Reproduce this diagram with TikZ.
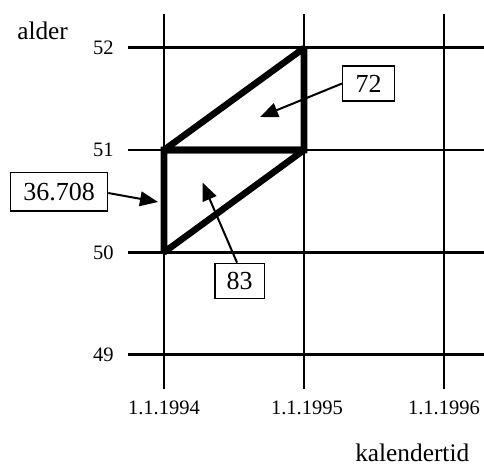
\documentclass[tikz,border=0pt]{standalone}
\usepackage{fontspec}
\setmainfont{Liberation Serif}
\usetikzlibrary{arrows.meta}
\begin{document}
\begin{tikzpicture}[x=0.75pt,y=-0.75pt,
  gridline/.style={line width=2.2pt,black},
  thickline/.style={line width=4.9pt,black,line join=miter,miter limit=2},
  axlabel/.style={font=\fontsize{15.4}{18}\selectfont,inner sep=0pt},
  biglabel/.style={font=\fontsize{19}{22}\selectfont,inner sep=0pt},
  numbox/.style={draw,line width=0.9pt,font=\fontsize{19.5}{22}\selectfont,inner sep=0pt,minimum height=26.3pt},
  pointer/.style={line width=1.5pt,-{Triangle[length=13.5pt,width=11pt]}}]
\useasboundingbox (0,0) rectangle (484,466);
% grid
\foreach \yy in {47.7,150,252.3,354.6} \draw[gridline] (128,\yy) -- (484,\yy);
\foreach \xx in {164,304,444} \draw[gridline] (\xx,14) -- (\xx,389);
% thick triangles
\draw[thickline] (164,150) -- (304,48) -- (304,150) -- cycle;
\draw[thickline] (164,252.3) -- (164,150) -- (304,150) -- cycle;
% axis labels
\node[axlabel,anchor=east] (y52) at (114,47.7) {52};
\node[axlabel,anchor=east] (y51) at (114,150) {51};
\node[axlabel,anchor=east] (y50) at (114,252.3) {50};
\node[axlabel,anchor=east] (y49) at (114,354.6) {49};
\node[axlabel] (x94) at (164,408) {1.1.1994};
\node[axlabel] (x95) at (307,408) {1.1.1995};
\node[axlabel] (x96) at (444,408) {1.1.1996};
\node[biglabel,anchor=base west] (alder) at (17,40) {alder};
\node[biglabel,anchor=base west] (kal) at (355,461) {kalendertid};
% boxed values
\node[numbox,minimum width=72.75pt,minimum height=29pt] (b1) at (59.2,191.7) {36.708};
\node[numbox,minimum width=38.7pt] (b2) at (368.5,83.5) {72};
\node[numbox,minimum width=37pt] (b3) at (239.7,280.8) {83};
% arrow tips
\coordinate (t1) at (158,202);
\coordinate (t2) at (260,117);
\coordinate (t3) at (202.5,182.5);
\draw[pointer] ([yshift=-1pt]b1.east) -- (t1);
\draw[pointer] (b2.west) -- (t2);
\draw[pointer] ([xshift=-2pt]b3.north) -- (t3);
\end{tikzpicture}
\end{document}
